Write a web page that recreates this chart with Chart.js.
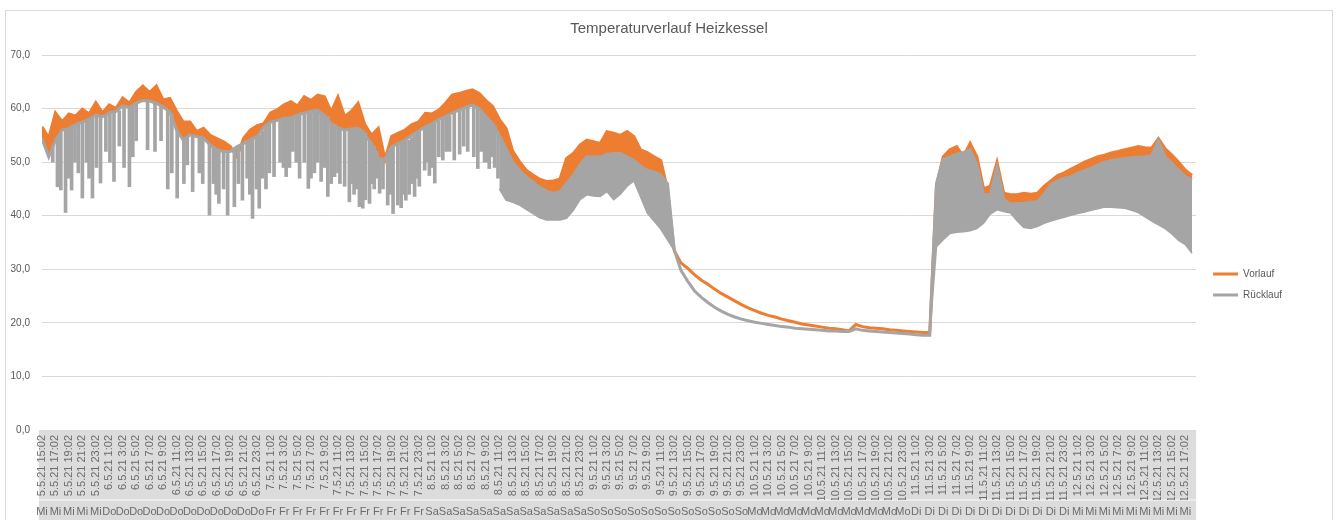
<!DOCTYPE html>
<html><head><meta charset="utf-8">
<script src="https://cdn.jsdelivr.net/npm/chart.js@4.4.1/dist/chart.umd.min.js"></script>
<style>html,body{margin:0;padding:0;background:#fff}</style>
</head><body>
<canvas id="c" width="1338" height="520"></canvas>
<script>
// Time axis: hours since 5.5.21 15:02 (one value per hour)
const tickLabels = [
'5.5.21 15:02','5.5.21 17:02','5.5.21 19:02','5.5.21 21:02','5.5.21 23:02',
'6.5.21 1:02','6.5.21 3:02','6.5.21 5:02','6.5.21 7:02','6.5.21 9:02','6.5.21 11:02','6.5.21 13:02','6.5.21 15:02','6.5.21 17:02','6.5.21 19:02','6.5.21 21:02','6.5.21 23:02',
'7.5.21 1:02','7.5.21 3:02','7.5.21 5:02','7.5.21 7:02','7.5.21 9:02','7.5.21 11:02','7.5.21 13:02','7.5.21 15:02','7.5.21 17:02','7.5.21 19:02','7.5.21 21:02','7.5.21 23:02',
'8.5.21 1:02','8.5.21 3:02','8.5.21 5:02','8.5.21 7:02','8.5.21 9:02','8.5.21 11:02','8.5.21 13:02','8.5.21 15:02','8.5.21 17:02','8.5.21 19:02','8.5.21 21:02','8.5.21 23:02',
'9.5.21 1:02','9.5.21 3:02','9.5.21 5:02','9.5.21 7:02','9.5.21 9:02','9.5.21 11:02','9.5.21 13:02','9.5.21 15:02','9.5.21 17:02','9.5.21 19:02','9.5.21 21:02','9.5.21 23:02',
'10.5.21 1:02','10.5.21 3:02','10.5.21 5:02','10.5.21 7:02','10.5.21 9:02','10.5.21 11:02','10.5.21 13:02','10.5.21 15:02','10.5.21 17:02','10.5.21 19:02','10.5.21 21:02','10.5.21 23:02',
'11.5.21 1:02','11.5.21 3:02','11.5.21 5:02','11.5.21 7:02','11.5.21 9:02','11.5.21 11:02','11.5.21 13:02','11.5.21 15:02','11.5.21 17:02','11.5.21 19:02','11.5.21 21:02','11.5.21 23:02',
'12.5.21 1:02','12.5.21 3:02','12.5.21 5:02','12.5.21 7:02','12.5.21 9:02','12.5.21 11:02','12.5.21 13:02','12.5.21 15:02','12.5.21 17:02'
];
const weekdayLabels = [
'Mi','Mi','Mi','Mi','Mi',
'Do','Do','Do','Do','Do','Do','Do','Do','Do','Do','Do','Do',
'Fr','Fr','Fr','Fr','Fr','Fr','Fr','Fr','Fr','Fr','Fr','Fr',
'Sa','Sa','Sa','Sa','Sa','Sa','Sa','Sa','Sa','Sa','Sa','Sa',
'So','So','So','So','So','So','So','So','So','So','So','So',
'Mo','Mo','Mo','Mo','Mo','Mo','Mo','Mo','Mo','Mo','Mo','Mo',
'Di','Di','Di','Di','Di','Di','Di','Di','Di','Di','Di','Di',
'Mi','Mi','Mi','Mi','Mi','Mi','Mi','Mi','Mi'
];
const TICK_STEP_H = 2;
const X_END_H = 171.6;

// Vorlauf (flow) – upper edge, hourly
const vorlauf = [
56.6,54.5,59.2,57.5,59.0,58.6,59.9,59.0,61.1,59.2,60.7,60.0,62.0,61.0,63.0,64.2,63.0,64.2,61.6,61.9,
59.5,57.5,57.5,55.7,56.3,55.0,54.4,53.8,52.9,51.0,54.5,56.0,56.8,57.2,59.2,59.8,60.7,61.3,60.5,62.2,
61.5,62.5,62.2,59.4,62.2,58.5,59.5,61.0,57.0,55.0,56.3,50.5,54.8,55.4,56.0,57.0,57.5,59.1,59.0,59.7,
61.0,62.5,62.8,63.2,63.5,62.8,61.5,60.4,58.0,56.3,52.0,50.1,48.5,47.6,46.8,46.4,46.5,46.8,50.7,51.6,
53.2,54.1,53.8,53.5,55.7,55.4,55.0,55.7,54.8,52.3,51.8,51.0,50.3,45.0,33.5,31.2,30.2,29.0,28.0,27.2,
26.3,25.5,24.8,24.1,23.4,22.8,22.3,21.8,21.4,21.1,20.7,20.4,20.1,19.8,19.6,19.4,19.2,19.0,18.9,18.7,
18.5,19.7,19.3,19.1,19.0,18.9,18.7,18.6,18.5,18.4,18.3,18.2,18.2,45.7,51.0,52.3,52.9,51.0,53.5,51.0,
45.0,45.5,50.0,44.2,43.9,43.9,44.2,44.0,44.2,45.5,46.5,47.5,48.0,48.7,49.3,50.0,50.5,51.0,51.3,51.7,
52.0,52.3,52.6,52.9,52.7,52.6,54.4,52.5,51.3,50.0,48.5,47.5
];
// Rücklauf (return) – upper edge, hourly
const ruecklauf = [
54.4,51.0,54.1,56.0,56.3,57.0,57.5,58.0,58.8,58.5,59.2,59.5,60.5,60.2,61.0,61.5,61.4,61.0,60.3,59.4,
56.0,54.1,55.1,54.8,54.5,53.2,52.3,52.0,52.0,52.9,53.5,54.2,54.8,56.5,57.5,57.8,58.2,58.3,58.8,59.2,
59.5,59.7,58.5,57.2,56.4,56.0,56.2,56.3,55.0,53.5,50.7,50.5,52.9,53.5,54.1,55.0,55.8,56.6,57.2,58.0,
58.5,59.2,59.7,60.2,60.7,60.0,58.5,57.2,55.0,52.5,50.0,48.5,47.2,46.3,45.3,44.6,44.2,44.5,46.0,47.5,
49.5,51.0,51.0,51.0,51.5,51.6,51.6,51.0,50.3,49.3,48.5,48.2,47.6,46.0,33.6,29.8,27.8,26.0,24.8,23.8,
22.9,22.2,21.6,21.1,20.7,20.4,20.1,19.9,19.7,19.5,19.3,19.2,19.0,18.9,18.8,18.7,18.6,18.5,18.5,18.4,
18.4,18.9,18.6,18.5,18.4,18.3,18.2,18.1,18.0,17.9,17.8,17.7,17.7,46.0,50.5,51.0,51.5,51.8,52.3,49.5,
43.9,44.0,49.0,43.0,42.2,42.3,42.3,42.5,42.6,44.0,45.8,46.5,47.0,47.3,47.9,48.4,48.9,49.5,50.0,50.3,
50.5,50.7,50.8,50.9,51.0,51.2,54.0,51.0,49.8,48.5,47.3,46.7
];
// Rücklauf lower envelope while the burner cycles fast (two periods)
const bandA_startH = 68;
const ruecklaufLowA = [45.0,42.9,42.5,42.0,41.2,40.4,39.6,39.2,39.2,39.2,39.5,41.0,43.0,43.9,43.7,43.6,44.5,43.0,44.0,45.5,46.5,43.5,40.5,39.0,37.5,35.5,33.6];
const bandB_startH = 132;
const ruecklaufLowB = [17.7,34.2,35.5,36.7,36.9,37.0,37.2,37.6,38.6,40.3,41.1,40.8,40.5,39.0,37.8,37.6,38.0,38.6,39.0,39.4,39.7,40.1,40.4,40.7,41.0,41.3,41.6,41.6,41.5,41.4,41.0,40.6,39.8,39.0,38.3,37.6,36.6,35.4,34.6,33.0];
// Individual Rücklauf drops: hour, minimum, level before the drop
const dipHours = [1.6,2.3,2.8,3.5,3.9,4.4,4.9,5.4,6.0,6.6,7.0,7.5,8.1,8.7,9.5,10.1,10.7,11.5,12.2,13.0,13.5,14.0,15.7,16.8,17.7,18.7,19.3,20.1,21.1,21.6,22.4,23.4,23.9,24.9,25.5,25.9,26.3,27.0,27.6,28.6,29.2,29.8,30.5,30.9,31.3,31.9,32.3,32.8,33.3,33.8,34.5,35.4,35.9,36.3,36.8,37.3,37.8,38.3,39.0,39.6,40.0,40.5,41.0,41.5,42.0,42.5,43.0,43.5,44.0,44.3,45.0,45.7,46.0,46.4,46.8,47.2,47.7,48.1,48.7,49.0,49.4,49.8,50.2,50.7,51.4,51.8,52.2,52.9,53.4,53.8,54.1,54.6,55.0,55.4,55.8,56.1,56.9,57.2,57.6,58.0,58.4,59.0,59.6,60.1,60.6,61.3,62.1,62.7,63.3,64.2,64.8,65.3,65.8,66.2,66.5,67.0,67.3,67.8];
const dipLows  = [50.0,45.4,44.8,40.6,47.0,44.8,50.0,48.0,43.3,50.0,47.0,43.3,49.0,46.1,52.0,50.0,46.4,53.0,49.0,45.4,51.0,54.0,52.3,52.0,54.0,45.0,48.0,43.3,46.0,49.5,44.5,48.0,46.0,40.1,46.0,44.0,42.3,45.0,40.1,41.7,46.0,42.9,47.0,44.0,39.5,45.0,41.4,47.0,45.0,48.0,47.3,50.0,49.0,47.3,49.0,52.0,50.0,47.0,50.0,45.1,47.0,48.0,50.0,46.4,49.0,43.6,46.0,47.3,48.0,46.0,45.5,42.6,46.0,44.0,45.0,41.7,41.4,43.0,42.3,46.0,45.0,47.0,44.2,45.0,42.0,44.0,40.4,42.0,41.5,44.0,42.9,44.0,46.0,43.6,47.0,45.5,48.5,50.0,47.5,49.0,46.1,51.0,50.4,52.0,52.0,50.4,51.5,53.0,52.0,51.0,48.8,52.0,50.0,50.0,48.8,51.0,49.0,47.0];
const dipTops  = [53.0,54.5,55.5,56.0,56.2,56.3,56.8,57.2,57.5,57.8,58.0,58.3,58.6,58.6,58.8,59.2,59.4,59.6,60.4,60.2,60.5,61.0,61.4,61.2,60.6,59.6,59.0,56.0,54.5,54.8,55.1,54.8,54.6,53.3,53.0,52.5,52.2,52.0,52.0,52.5,52.8,53.2,53.8,54.0,54.5,54.8,55.0,55.8,57.0,57.3,57.6,58.0,58.1,58.2,58.2,58.3,58.5,58.8,59.0,59.3,59.4,59.4,59.6,59.3,59.0,58.5,57.2,57.0,56.5,56.5,56.0,56.1,56.2,56.2,56.3,56.3,56.0,55.5,54.0,53.5,53.0,52.0,50.7,50.6,51.5,52.5,52.9,53.4,53.6,53.9,54.0,54.1,54.6,55.0,55.4,55.8,56.4,56.8,57.0,57.2,57.5,57.8,58.2,58.4,58.6,59.3,59.7,60.0,60.3,60.5,60.3,59.8,59.0,58.2,57.8,57.3,56.8,55.5];
// Boiler off (no fill between the two curves)
const heatOffH = [94, 132];

const ORANGE = '#ed7d31', GRAY = '#a5a5a5', TXT = '#595959';
const FONT = "'Liberation Sans', Arial, sans-serif";
Chart.defaults.font.family = FONT;

const hourly = arr => arr.map((v, i) => ({x: i, y: v}));
const fromStart = (arr, s) => arr.map((v, i) => ({x: s + i, y: v}));
const dips = dipHours.map((h, i) => ({x: h, y: [dipLows[i], dipTops[i]]}));
const hourTicks = s => { s.ticks = tickLabels.map((_, i) => ({value: i * TICK_STEP_H})); };
const fixW = w => s => { s.width = w; };
const fixH = h => s => { s.height = h; };
const spacer = (w, weight) => ({type: 'linear', position: 'right', weight, afterFit: fixW(w),
  ticks: {display: false}, grid: {display: false, drawTicks: false, tickLength: 0}, border: {display: false}});

const decor = {
  id: 'decor',
  beforeDraw(chart) {
    const {ctx} = chart, x = chart.scales.x, x2 = chart.scales.x2;
    ctx.save();
    ctx.fillStyle = '#fff';
    ctx.fillRect(0, 0, chart.width, chart.height);
    ctx.fillStyle = '#dcdcdc';
    ctx.fillRect(x.left - 3, x.top, x.right - x.left + 3, x2.bottom - x.top + 10);
    ctx.fillStyle = '#ececec';
    ctx.fillRect(x.left - 3, x2.top - 1, x.right - x.left + 3, 2);
    ctx.strokeStyle = '#d9d9d9';
    ctx.lineWidth = 1;
    ctx.strokeRect(5.5, 10.5, chart.width - 11, chart.height + 20);
    ctx.restore();
  }
};

new Chart(document.getElementById('c'), {
  type: 'line',
  data: {
    datasets: [
      {label: 'Rücklauf', data: hourly(ruecklauf), borderColor: GRAY, backgroundColor: GRAY,
       borderWidth: 3, pointRadius: 0, tension: 0, fill: false, order: 2},
      {label: '_bandA', data: fromStart(ruecklaufLowA, bandA_startH), borderColor: GRAY, backgroundColor: GRAY,
       borderWidth: 1.5, pointRadius: 0, tension: 0, fill: 0, order: 1},
      {label: '_bandB', data: fromStart(ruecklaufLowB, bandB_startH), borderColor: GRAY, backgroundColor: GRAY,
       borderWidth: 1.5, pointRadius: 0, tension: 0, fill: 0, order: 1},
      {label: '_dips', type: 'bar', data: dips, backgroundColor: GRAY, borderWidth: 0,
       barThickness: 3, grouped: false, order: 0},
      {label: 'Vorlauf', data: hourly(vorlauf), borderColor: ORANGE, backgroundColor: ORANGE,
       borderWidth: 3, pointRadius: 0, tension: 0, fill: {target: 0}, order: 3,
       segment: {backgroundColor: c => (c.p0.parsed.x >= heatOffH[0] && c.p1.parsed.x <= heatOffH[1]) ? 'rgba(0,0,0,0)' : ORANGE}}
    ]
  },
  options: {
    responsive: false, animation: false, devicePixelRatio: 1,
    layout: {padding: {left: 10, right: 10, top: 1, bottom: 0}},
    plugins: {
      title: {display: true, text: 'Temperaturverlauf Heizkessel', color: TXT,
              font: {size: 15, weight: 'normal', family: FONT}, padding: {top: 19, bottom: 17}},
      legend: {position: 'right', align: 'center', fullSize: false,
        title: {display: true, text: '', font: {size: 10}, padding: {top: 72, bottom: 0}},
        labels: {boxWidth: 25, boxHeight: 3, padding: 11, color: TXT, font: {size: 10, family: FONT},
          generateLabels: chart => [4, 0].map(i => {
            const ds = chart.data.datasets[i];
            return {text: ds.label, fillStyle: ds.borderColor, strokeStyle: ds.borderColor, lineWidth: 0,
                    datasetIndex: i, hidden: false, fontColor: TXT};
          })}},
      tooltip: {enabled: false}
    },
    scales: {
      x: {type: 'linear', position: 'bottom', min: 0, max: X_END_H, offset: false, weight: 0,
          afterBuildTicks: hourTicks, afterFit: fixH(70),
          ticks: {autoSkip: false, minRotation: 90, maxRotation: 90, padding: 5, color: '#6b6b6b',
                  font: {size: 11, family: FONT}, callback: (v, i) => tickLabels[i]},
          grid: {display: false, drawTicks: false, tickLength: 0}, border: {display: false}},
      x2: {type: 'linear', axis: 'x', position: 'bottom', min: 0, max: X_END_H, offset: false, weight: 1,
          afterBuildTicks: hourTicks, afterFit: fixH(20),
          ticks: {autoSkip: false, minRotation: 0, maxRotation: 0, padding: 5, color: '#6b6b6b',
                  font: {size: 11, family: FONT}, callback: (v, i) => weekdayLabels[i]},
          grid: {display: false, drawTicks: false, tickLength: 0}, border: {display: false}},
      y: {min: 0, max: 70, afterFit: fixW(32),
          ticks: {stepSize: 10, padding: 12, color: TXT, font: {size: 10, family: FONT},
                  callback: v => v.toFixed(1).replace('.', ',')},
          grid: {color: '#d9d9d9', drawTicks: false, tickLength: 0}, border: {display: false}},
      gapInner: spacer(6, 0),
      gapOuter: spacer(36, 2000)
    }
  },
  plugins: [decor]
});
</script>
</body></html>
